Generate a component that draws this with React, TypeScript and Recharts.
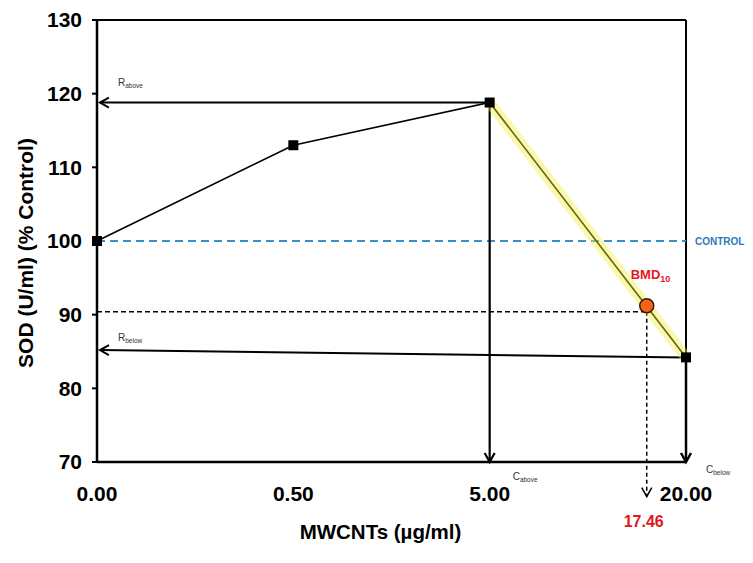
import React from 'react';
import {
  ComposedChart, Line, XAxis, YAxis, ReferenceLine, ReferenceDot, Label,
} from 'recharts';

// ---- data ----
const xLabels = ['0.00', '0.50', '5.00', '20.00'];
const xIndex = [0, 1, 2, 3];
const sodValues = [100, 113, 118.8, 84.2];
const yTicks = [70, 80, 90, 100, 110, 120, 130];
const controlLevel = 100;
const bmdIndex = 2.8;
const bmdSod = 91.2;
const bmdDashLevel = 90.4;
const bmdText = '17.46';
const rBelowLeft = 85.2;

const data = xIndex.map((x, i) => ({ x, sod: sodValues[i] }));
const highlight = [
  { x: xIndex[2], hl: sodValues[2] },
  { x: xIndex[3], hl: sodValues[3] },
];

const FONT = '"Liberation Sans", Arial, sans-serif';

const Square = (props: any) => {
  const { cx, cy, index } = props;
  if (cx == null || cy == null) return <g key={index} />;
  return <rect key={index} x={cx - 5} y={cy - 5} width={10} height={10} fill="#000" />;
};

const makeArrow = (color: string, width: number, dash?: string, head = true) => (p: any) => {
  const { x1, y1, x2, y2 } = p;
  if ([x1, y1, x2, y2].some((v) => v == null || isNaN(v))) return <g />;
  const dx = x2 - x1;
  const dy = y2 - y1;
  const len = Math.sqrt(dx * dx + dy * dy) || 1;
  const ux = dx / len;
  const uy = dy / len;
  const hl = 9;
  const hw = 5;
  const bx = x2 - ux * hl;
  const by = y2 - uy * hl;
  const ax = bx - uy * hw;
  const ay = by + ux * hw;
  const cx = bx + uy * hw;
  const cy = by - ux * hw;
  return (
    <g>
      <line x1={x1} y1={y1} x2={x2} y2={y2} stroke={color} strokeWidth={width} strokeDasharray={dash} />
      {head && (
        <polyline
          points={`${ax},${ay} ${x2},${y2} ${cx},${cy}`}
          fill="none"
          stroke={color}
          strokeWidth={width}
        />
      )}
    </g>
  );
};

const subText = (main: string, sub: string, opts: any) => (p: any) => {
  const vb = p.viewBox || {};
  const x = (vb.x ?? 0) + (opts.dx || 0);
  const y = (vb.y ?? 0) + (opts.dy || 0);
  return (
    <text
      x={x}
      y={y}
      fontFamily={FONT}
      fontSize={opts.size}
      fontWeight={opts.weight || 'normal'}
      fill={opts.color || '#222'}
      textAnchor={opts.anchor || 'start'}
    >
      <tspan>{main}</tspan>
      {sub && (
        <tspan fontSize={opts.subSize} dy={opts.subDy}>
          {sub}
        </tspan>
      )}
    </text>
  );
};

export default function App() {
  return (
    <div style={{ position: 'absolute', left: 0, top: 0, width: 753, height: 563, background: '#fff' }}>
      <ComposedChart
        width={753}
        height={563}
        data={data}
        margin={{ top: 20, right: 67, bottom: 61, left: 37 }}
      >
        <XAxis
          type="number"
          dataKey="x"
          domain={[0, 3]}
          ticks={xIndex}
          tickFormatter={(v: number) => xLabels[v] ?? ''}
          axisLine={{ stroke: '#000', strokeWidth: 2.5 }}
          tickLine={false}
          tickSize={0}
          tickMargin={24}
          height={40}
          tick={{ fill: '#000', fontSize: 21, fontWeight: 'bold', fontFamily: FONT }}
        >
          <Label
            content={(p: any) => {
              const vb = p.viewBox || {};
              return (
                <text
                  x={vb.x + vb.width / 2 - 11}
                  y={vb.y + 77}
                  textAnchor="middle"
                  fontFamily={FONT}
                  fontSize={20.5}
                  fontWeight="bold"
                  fill="#000"
                >
                  MWCNTs (µg/ml)
                </text>
              );
            }}
          />
        </XAxis>
        <YAxis
          type="number"
          domain={[70, 130]}
          ticks={yTicks}
          width={60}
          axisLine={{ stroke: '#000', strokeWidth: 2.5 }}
          tickLine={{ stroke: '#000', strokeWidth: 2 }}
          tickSize={5}
          tickMargin={10}
          tick={{ fill: '#000', fontSize: 21, fontWeight: 'bold', fontFamily: FONT }}
        >
          <Label
            content={(p: any) => {
              const vb = p.viewBox || {};
              const cx = vb.x - 12;
              const cy = vb.y + vb.height / 2 + 12;
              return (
                <text
                  x={cx}
                  y={cy}
                  transform={`rotate(-90, ${cx}, ${cy})`}
                  textAnchor="middle"
                  dominantBaseline="central"
                  fontFamily={FONT}
                  fontSize={21}
                  fontWeight="bold"
                  fill="#000"
                >
                  SOD (U/ml) (% Control)
                </text>
              );
            }}
          />
        </YAxis>

        {/* frame */}
        <ReferenceLine y={130} stroke="#000" strokeWidth={2} ifOverflow="visible" />
        <ReferenceLine x={3} stroke="#000" strokeWidth={2} ifOverflow="visible" />

        {/* control */}
        <ReferenceLine
          y={controlLevel}
          stroke="#3a8fc8"
          strokeWidth={2}
          strokeDasharray="8 5"
          ifOverflow="visible"
        />

        {/* dashed guides */}
        <ReferenceLine
          segment={[{ x: 0, y: bmdDashLevel }, { x: bmdIndex, y: bmdDashLevel }]}
          ifOverflow="visible"
          shape={makeArrow('#000', 1.5, '5 3', false)}
        />
        <ReferenceLine
          segment={[{ x: bmdIndex, y: bmdDashLevel }, { x: bmdIndex, y: 65.3 }]}
          ifOverflow="visible"
          shape={makeArrow('#000', 1.5, '4 3', true)}
        />

        {/* arrows */}
        <ReferenceLine
          segment={[{ x: 2, y: sodValues[2] }, { x: 0.015, y: sodValues[2] }]}
          ifOverflow="visible"
          shape={makeArrow('#000', 2)}
        />
        <ReferenceLine
          segment={[{ x: 3, y: sodValues[3] }, { x: 0.015, y: rBelowLeft }]}
          ifOverflow="visible"
          shape={makeArrow('#000', 2)}
        />
        <ReferenceLine
          segment={[{ x: 2, y: sodValues[2] }, { x: 2, y: 70 }]}
          ifOverflow="visible"
          shape={makeArrow('#000', 2.2)}
        />
        <ReferenceLine
          segment={[{ x: 3, y: sodValues[3] }, { x: 3, y: 70 }]}
          ifOverflow="visible"
          shape={makeArrow('#000', 2.5)}
        />

        <Line
          dataKey="sod"
          stroke="#000"
          strokeWidth={1.6}
          dot={Square}
          activeDot={false}
          isAnimationActive={false}
        />
        <Line
          data={highlight}
          dataKey="hl"
          stroke="#f2ee3a"
          strokeOpacity={0.42}
          strokeWidth={11}
          dot={false}
          activeDot={false}
          isAnimationActive={false}
        />

        <ReferenceDot
          x={bmdIndex}
          y={bmdSod}
          r={7}
          fill="#f26518"
          stroke="#3a1a00"
          strokeWidth={1.5}
          ifOverflow="visible"
        />

        {/* text annotations */}
        <ReferenceDot x={0.107} y={121.3} r={0} fill="none" stroke="none" ifOverflow="visible"
          label={{ content: subText('R', 'above', { size: 10, subSize: 6.5, subDy: 1.5, dx: 0, dy: 2, color: '#333' }) }} />
        <ReferenceDot x={0.107} y={86.5} r={0} fill="none" stroke="none" ifOverflow="visible"
          label={{ content: subText('R', 'below', { size: 10, subSize: 6.5, subDy: 1.5, dx: 0, dy: 1, color: '#333' }) }} />
        <ReferenceDot x={2} y={70} r={0} fill="none" stroke="none" ifOverflow="visible"
          label={{ content: subText('C', 'above', { size: 10, subSize: 6.5, subDy: 1.5, dx: 23, dy: 18, color: '#333' }) }} />
        <ReferenceDot x={3} y={70} r={0} fill="none" stroke="none" ifOverflow="visible"
          label={{ content: subText('C', 'below', { size: 10, subSize: 6.5, subDy: 1.5, dx: 20, dy: 11, color: '#333' }) }} />
        <ReferenceDot x={bmdIndex} y={bmdSod} r={0} fill="none" stroke="none" ifOverflow="visible"
          label={{ content: subText('BMD', '10', { size: 13, subSize: 9, subDy: 3, dx: -16, dy: -27, color: '#e3161c', weight: 'bold' }) }} />
        <ReferenceDot x={bmdIndex} y={70} r={0} fill="none" stroke="none" ifOverflow="visible"
          label={{ content: subText(bmdText, '', { size: 16, dx: -3, dy: 65, color: '#e3161c', weight: 'bold', anchor: 'middle' }) }} />
        <ReferenceDot x={3} y={controlLevel} r={0} fill="none" stroke="none" ifOverflow="visible"
          label={{ content: subText('CONTROL', '', { size: 10, dx: 9, dy: 4, color: '#2a7ab8', weight: 'bold' }) }} />
      </ComposedChart>
    </div>
  );
}
